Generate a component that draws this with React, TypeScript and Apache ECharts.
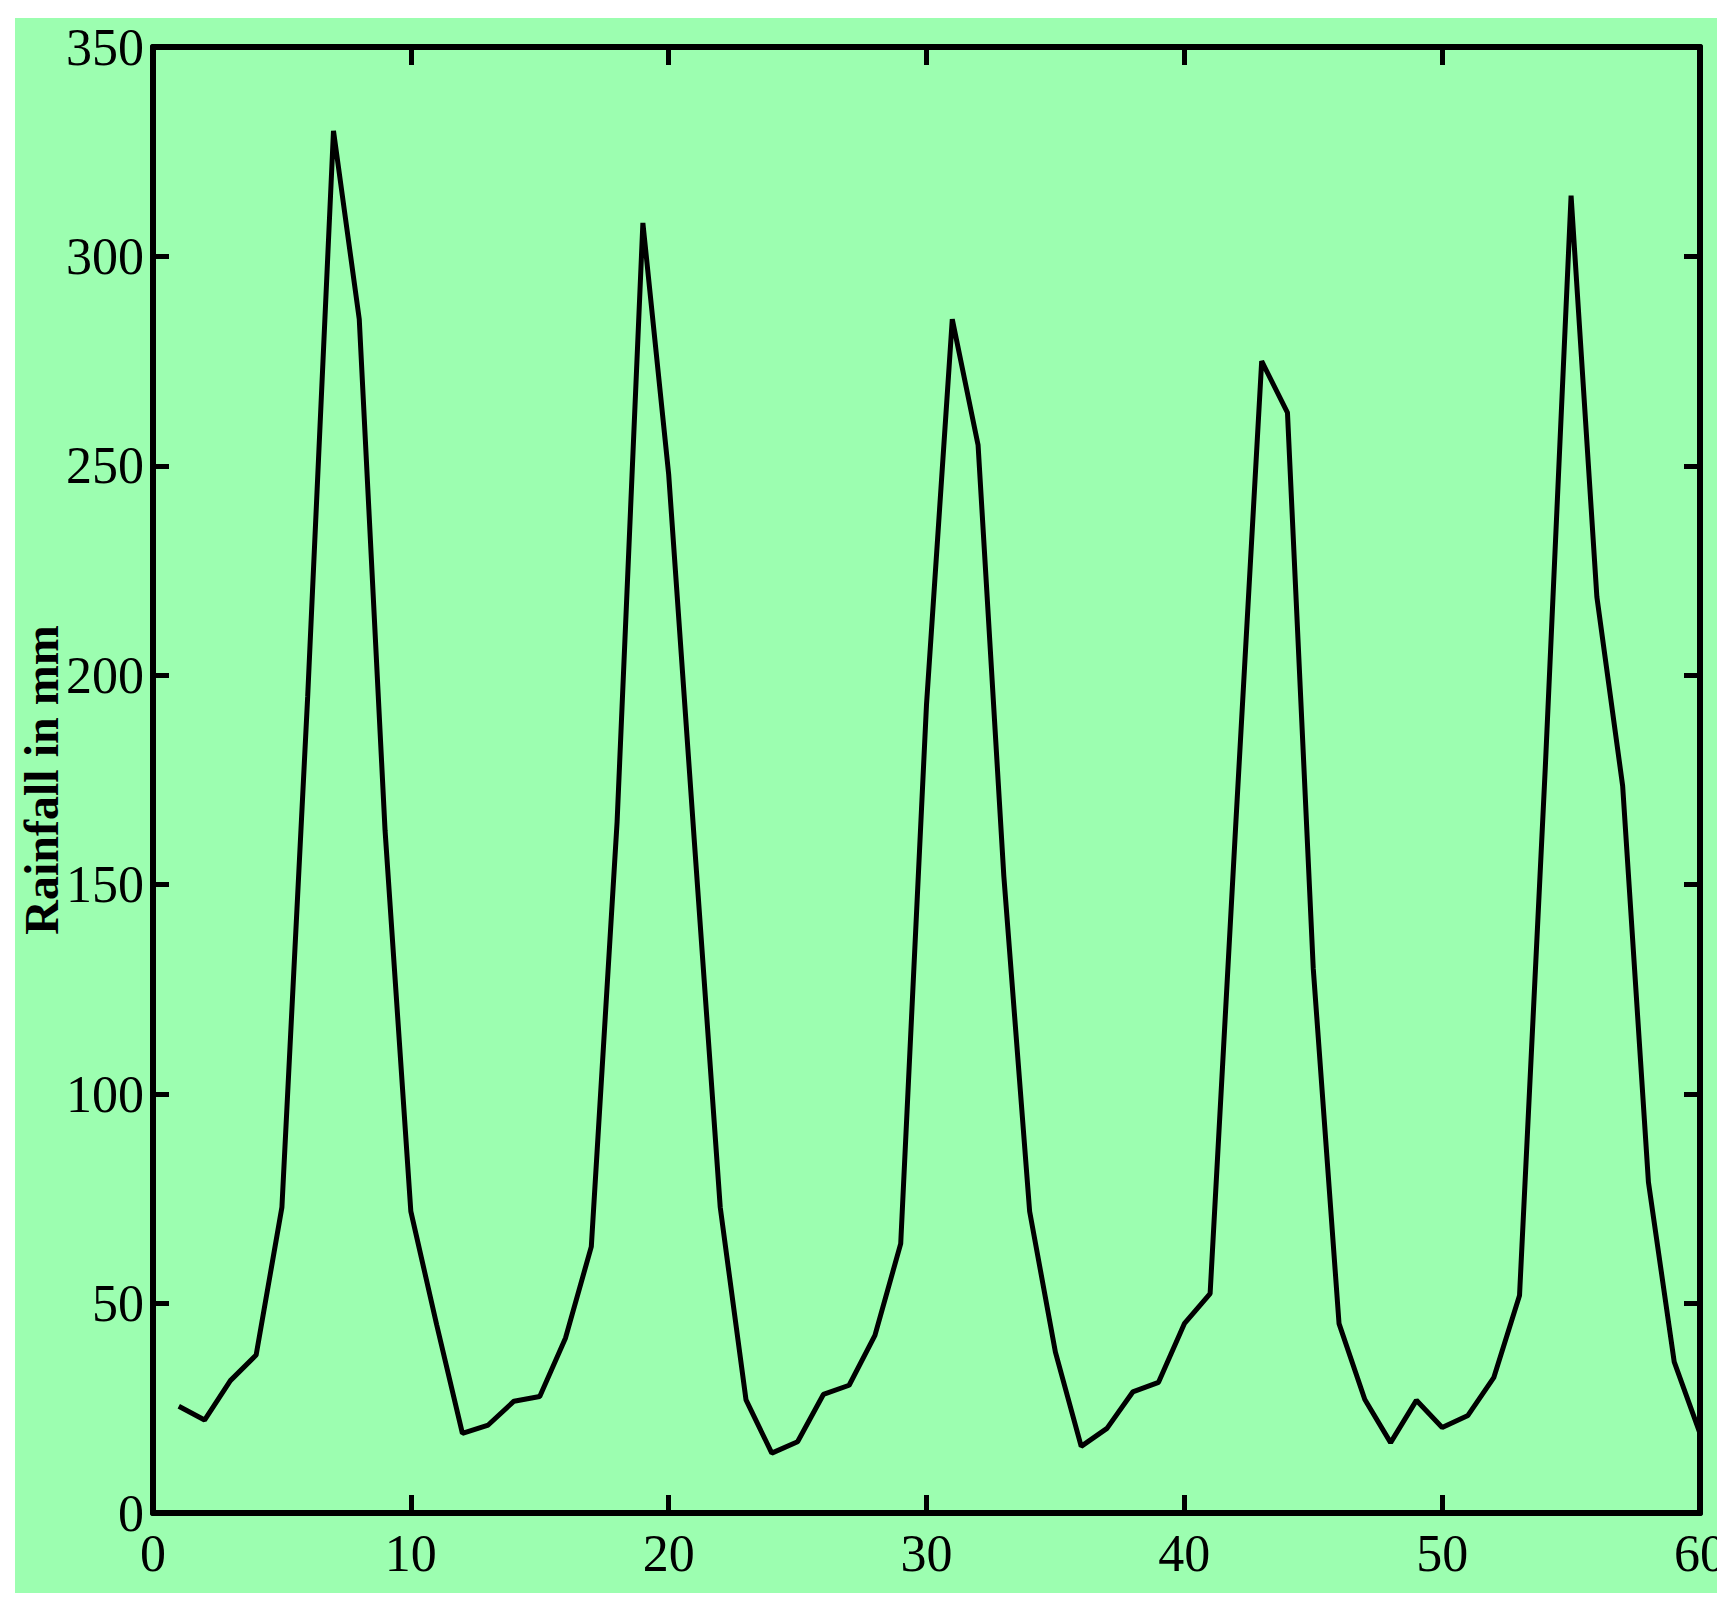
import React, { useEffect, useRef } from "react";
import * as echarts from "echarts";

// Monthly rainfall (mm), months 1..60
const rainfall: number[] = [
  25.5, 22.2, 31.6, 37.7, 73, 195, 330, 285, 163, 72, 45, 19,
  21, 26.7, 27.8, 41.8, 63.6, 165, 308, 248, 160, 73, 27, 14.3,
  17, 28.3, 30.5, 42.4, 64.3, 193, 285, 255, 152, 72, 38.4, 15.9,
  20.2, 28.9, 31.2, 45.2, 52.4, 165, 275, 262.7, 130, 45.2, 27.1, 16.8,
  26.9, 20.4, 23.3, 32.3, 51.9, 178, 314.5, 218.7, 173.6, 79, 36.1, 19,
];
const months: number[] = rainfall.map((_, i) => i + 1);

const xTicks = { min: 0, max: 60, interval: 10 };
const yTicks = { min: 0, max: 350, interval: 50 };
const yAxisTitle = "Rainfall in mm";

const FONT = "'Liberation Serif', 'Times New Roman', serif";

export default function App() {
  const ref = useRef<HTMLDivElement>(null);
  useEffect(() => {
    if (!ref.current) return;
    const chart = echarts.init(ref.current, undefined, { renderer: "svg" });
    const axisLine = { show: true, onZero: false, lineStyle: { color: "#000", width: 6 } };
    const tick = (len: number) => ({ show: true, inside: true, length: len, lineStyle: { color: "#000", width: 5 } });
    chart.setOption({
      animation: false,
      backgroundColor: "#9cfeb0",
      grid: { left: 138, right: 17, top: 29, bottom: 80, containLabel: false, outerBoundsMode: "none" },
      xAxis: [
        {
          type: "value",
          position: "bottom",
          ...xTicks,
          axisLine,
          axisTick: tick(18),
          splitLine: { show: false },
          axisLabel: { color: "#000", fontFamily: FONT, fontSize: 52, margin: 14 },
        },
        {
          type: "value",
          position: "top",
          ...xTicks,
          axisLine,
          axisTick: tick(18),
          splitLine: { show: false },
          axisLabel: { show: false },
        },
      ],
      yAxis: [
        {
          type: "value",
          position: "left",
          ...yTicks,
          axisLine,
          axisTick: tick(16),
          splitLine: { show: false },
          axisLabel: { color: "#000", fontFamily: FONT, fontSize: 52, margin: 9 },
          name: yAxisTitle,
          nameLocation: "middle",
          nameGap: 88,
          nameMoveOverlap: false,
          nameTextStyle: { color: "#000", fontFamily: FONT, fontSize: 48, fontWeight: "bold" },
        },
        {
          type: "value",
          position: "right",
          ...yTicks,
          axisLine,
          axisTick: tick(16),
          splitLine: { show: false },
          axisLabel: { show: false },
        },
      ],
      series: [
        {
          type: "line",
          data: months.map((m, i) => [m, rainfall[i]]),
          symbol: "none",
          lineStyle: { color: "#000", width: 5 },
          z: 1,
        },
      ],
    });
    return () => chart.dispose();
  }, []);
  return (
    <div style={{ position: "absolute", left: 0, top: 0, width: 1735, height: 1615, background: "#fff" }}>
      <div ref={ref} style={{ position: "absolute", left: 15, top: 18, width: 1702, height: 1575 }} />
    </div>
  );
}
